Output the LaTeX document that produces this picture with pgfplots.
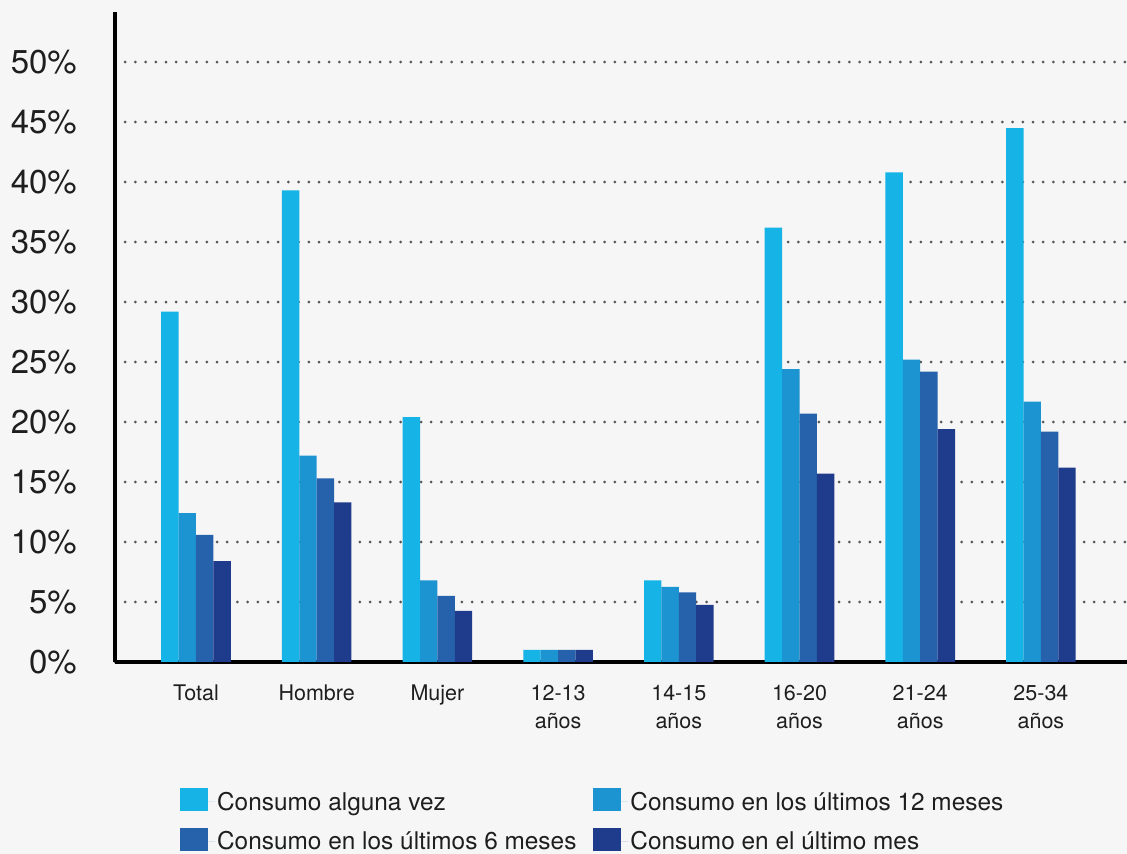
\documentclass[border=0pt]{standalone}
\usepackage{pgfplots}
\pgfplotsset{compat=1.18}
\usepackage{fontspec}
\setmainfont{TeX Gyre Heros}
\definecolor{bg}{RGB}{246,246,246}
\definecolor{c1}{RGB}{21,179,230}
\definecolor{c2}{RGB}{28,148,210}
\definecolor{c3}{RGB}{37,98,171}
\definecolor{c4}{RGB}{31,59,139}
\definecolor{gridc}{RGB}{85,85,85}
\definecolor{txt}{RGB}{30,30,30}
\pgfplotsset{sq legend/.style={legend image code/.code={\fill[##1] (0bp,-9bp) rectangle (28bp,14bp); \path (0bp,0bp) -- (35bp,0bp);}}}
\begin{document}
\begin{tikzpicture}[x=1bp,y=1bp]
\fill[bg] (0,0) rectangle (1127,854);
\begin{axis}[
  at={(115bp,192bp)}, anchor=south west,
  scale only axis, width=1012bp, height=650bp,
  xmin=-0.671, xmax=7.713, ymin=0, ymax=54.17,
  axis lines=left,
  axis line style={-, line width=4.5bp, black},
  major tick length=0pt,
  ytick={0,5,...,50},
  yticklabels={0\%,5\%,10\%,15\%,20\%,25\%,30\%,35\%,40\%,45\%,50\%},
  yticklabel style={font=\fontsize{33bp}{40bp}\selectfont, text=txt, anchor=east, inner sep=0pt, xshift=-38bp},
  xtick={0,...,7},
  xticklabels={Total,Hombre,Mujer,12-13\\años,14-15\\años,16-20\\años,21-24\\años,25-34\\años},
  xticklabel style={font=\fontsize{21.5bp}{28bp}\selectfont, text=txt, align=center, anchor=north, inner sep=0pt, yshift=-23bp},
  ymajorgrids,
  grid style={gridc, line width=3bp, line cap=round, dash pattern=on 0bp off 10.2bp},
  ybar=0pt, bar width=17.4bp,
  legend columns=2,
  legend style={at={(0.0612,-0.19)}, anchor=north west, draw=none, fill=none,
    font=\fontsize{24.4bp}{29bp}\selectfont, text=txt, row sep=14bp,
    /tikz/every even column/.append style={column sep=15bp}},
  legend cell align=left,
]
\addplot[fill=c1, draw=none, sq legend] coordinates {(0,29.2) (1,39.3) (2,20.4) (3,1.0) (4,6.8) (5,36.2) (6,40.8) (7,44.5)};
\addplot[fill=c2, draw=none, sq legend] coordinates {(0,12.4) (1,17.2) (2,6.8) (3,1.0) (4,6.25) (5,24.4) (6,25.2) (7,21.7)};
\addplot[fill=c3, draw=none, sq legend] coordinates {(0,10.6) (1,15.3) (2,5.5) (3,1.0) (4,5.8) (5,20.7) (6,24.2) (7,19.2)};
\addplot[fill=c4, draw=none, sq legend] coordinates {(0,8.4) (1,13.3) (2,4.25) (3,1.0) (4,4.75) (5,15.7) (6,19.4) (7,16.2)};
\legend{Consumo alguna vez, Consumo en los últimos 12 meses, Consumo en los últimos 6 meses, Consumo en el último mes}
\end{axis}
\pgfresetboundingbox
\path (0,0) rectangle (1127,854);
\end{tikzpicture}
\end{document}
